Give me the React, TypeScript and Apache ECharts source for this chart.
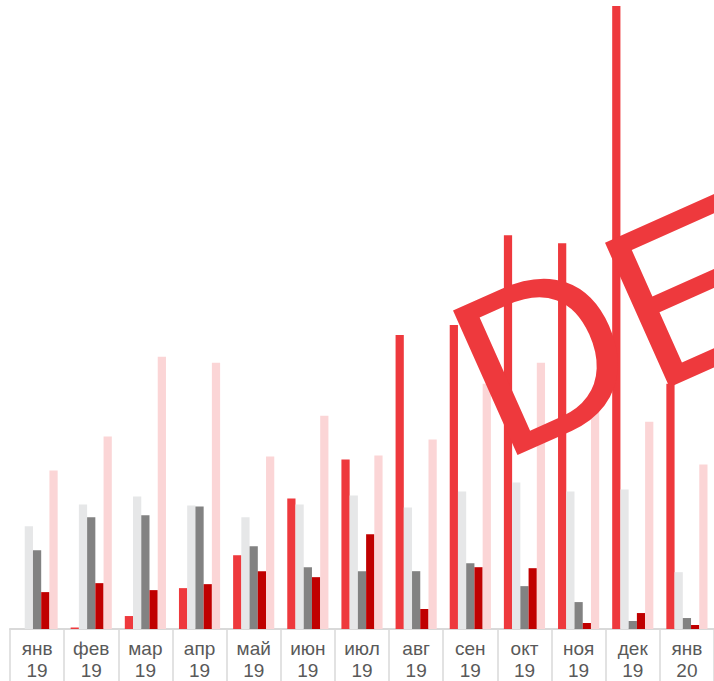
import React, { useEffect, useRef } from "react";
import * as echarts from "echarts";

const months = ["янв", "фев", "мар", "апр", "май", "июн", "июл", "авг", "сен", "окт", "ноя", "дек", "янв"];
const years = ["19", "19", "19", "19", "19", "19", "19", "19", "19", "19", "19", "19", "20"];

const seriesRed = [0, 1.5, 13, 41, 74, 131, 170, 295, 305, 395, 387, 625, 246];
const seriesLightGray = [103, 125, 133, 124, 112, 125, 134, 122, 138, 147, 138, 140, 57];
const seriesDarkGray = [79, 112, 114, 123, 83, 62, 58, 58, 66, 43, 27, 8, 11];
const seriesDarkRed = [37, 46, 39, 45, 58, 52, 95, 20, 62, 61, 6, 16, 4];
const seriesPink = [159, 193, 273, 267, 173, 214, 174, 190, 246, 267, 221, 208, 165];

const colors = ["#EE393D", "#E6E7E8", "#828282", "#C00000", "#FBD5D6"];

export default function App() {
  const ref = useRef<HTMLDivElement>(null);
  useEffect(() => {
    if (!ref.current) return;
    const chart = echarts.init(ref.current, null, { renderer: "svg" });
    const cats = months.map((m, i) => m + "\n" + years[i]);
    const data = [seriesRed, seriesLightGray, seriesDarkGray, seriesDarkRed, seriesPink];
    chart.setOption({
      animation: false,
      grid: { left: 10, width: 712, top: 0, bottom: 50 },
      xAxis: {
        type: "category",
        data: cats,
        boundaryGap: true,
        axisLine: { show: true, lineStyle: { color: "#D9D9D9", width: 2 } },
        axisTick: { show: true, interval: 0, length: 52, lineStyle: { color: "#D9D9D9", width: 1.5 } },
        axisLabel: {
          interval: 0,
          margin: 8,
          color: "#595959",
          fontSize: 19,
          lineHeight: 22,
          fontFamily: "Liberation Sans, Arial, sans-serif",
        },
      },
      yAxis: {
        type: "value",
        min: 0,
        max: 631,
        show: false,
        splitLine: { show: false },
      },
      series: data.map((d, i) => ({
        type: "bar",
        data: d,
        barGap: "0%",
        barCategoryGap: "24%",
        itemStyle: { color: colors[i] },
        z: 2,
      })),
      graphic: [
        {
          type: "text",
          x: 614,
          y: 325,
          rotation: (24 * Math.PI) / 180,
          z: 100,
          style: {
            text: "DE",
            fill: "#EE393D",
            font: "230px 'Liberation Sans', Arial, sans-serif",
            textAlign: "center",
            textVerticalAlign: "middle",
            shadowBlur: 6,
            shadowColor: "rgba(0,0,0,0.35)",
            shadowOffsetX: 3,
            shadowOffsetY: 3,
          },
        },
      ],
    });
    return () => chart.dispose();
  }, []);
  return (
    <div
      ref={ref}
      style={{ position: "absolute", left: 0, top: 0, width: 714, height: 681 }}
    />
  );
}
